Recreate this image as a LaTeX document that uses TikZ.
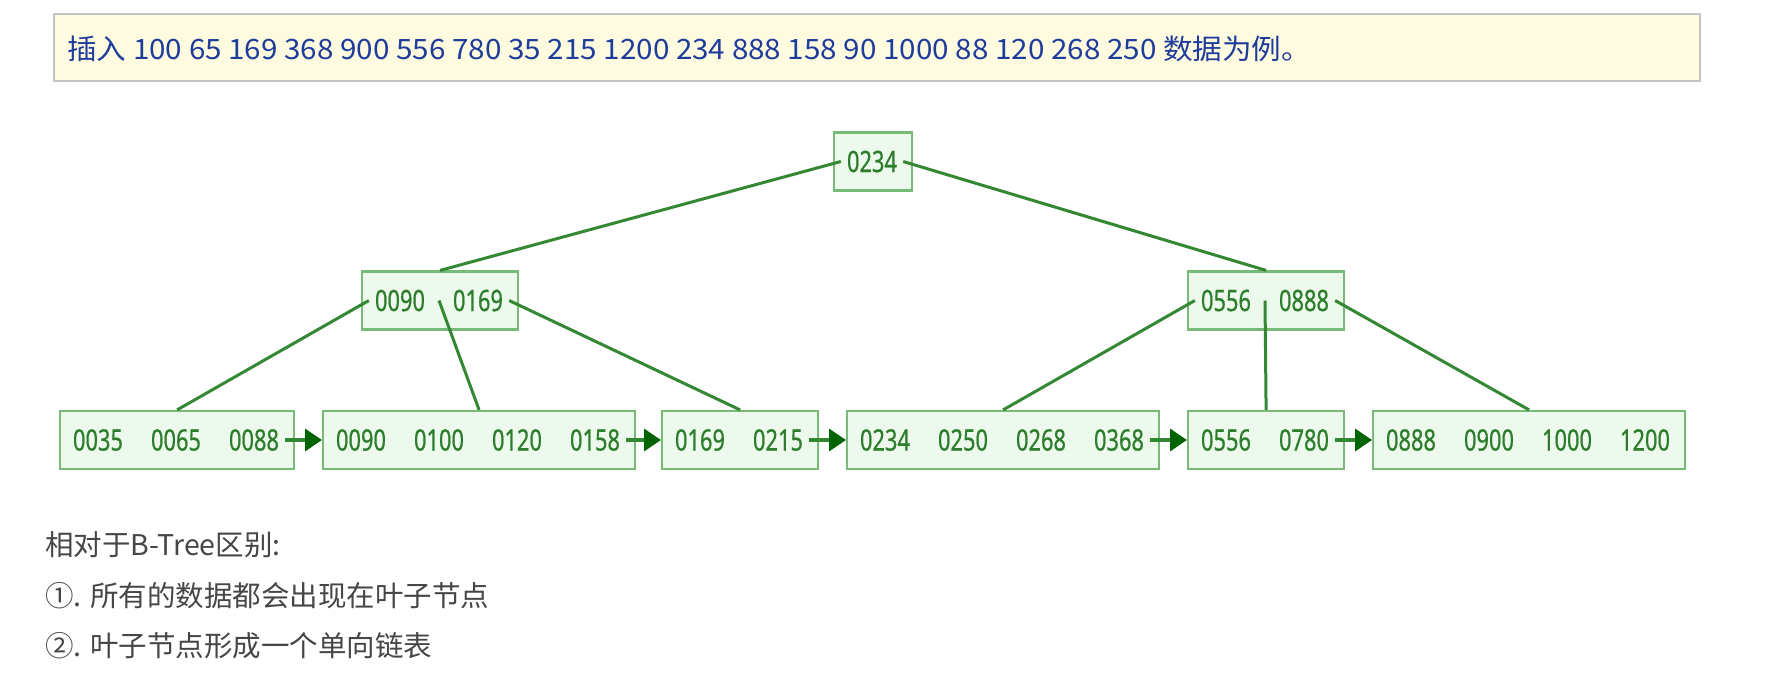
\documentclass[tikz,border=0pt]{standalone}
\usepackage{fontspec}
\usepackage{graphicx}
\usetikzlibrary{arrows.meta,calc}
\newfontfamily\cjkfont{Noto Sans CJK SC}
\newfontfamily\keyfont[FakeStretch=0.74,FakeBold=0.6]{Noto Sans}
\definecolor{boxfill}{RGB}{236,249,236}
\definecolor{boxdraw}{RGB}{120,186,120}
\definecolor{keytext}{RGB}{45,125,45}
\definecolor{linkcol}{RGB}{52,136,52}
\definecolor{shaftcol}{RGB}{50,135,50}
\definecolor{headcol}{RGB}{0,100,0}
\definecolor{bannerfill}{RGB}{255,251,224}
\definecolor{bannerdraw}{RGB}{195,195,195}
\definecolor{bannertext}{RGB}{30,60,155}
\definecolor{notetext}{RGB}{70,70,70}
\tikzset{
  bpbox/.style={draw=boxdraw, fill=boxfill, line width=2.2pt, minimum height=58pt, inner sep=0pt, anchor=west},
  bpkey/.style={text=keytext, font=\keyfont\fontsize{29.5}{29.5}\selectfont, inner xsep=6pt, inner ysep=0pt},
  treelink/.style={draw=linkcol, line width=3pt},
  leaflink/.style={draw=shaftcol, line width=3.5pt, -{Triangle[length=17pt,width=22pt,fill=headcol,color=headcol]}},
  notes/.style={anchor=base west, inner sep=0pt, text=notetext, font=\cjkfont\fontsize{28.5}{28.5}\selectfont},
}
\newcommand\bpnode[5]{%
  \node[bpbox, minimum width=#2*78pt] (#1) at (#3,#4) {};
  \foreach \k [count=\i] in {#5} {\node[bpkey] (#1-\i) at ({#3+78*\i-39},#4) {\k};}
}
\begin{document}
\begin{tikzpicture}[x=1pt,y=-1pt]
\fill[white] (0,0) rectangle (1779,681);
\useasboundingbox (0,0) rectangle (1779,681);
% banner
\node[draw=bannerdraw, fill=bannerfill, line width=1.5pt, minimum width=1646pt, minimum height=67pt, anchor=north west, inner sep=0pt] (banner) at (53,13) {};
\node[anchor=base west, inner sep=0pt, text=bannertext] (bannertxt) at (67,59)
  {\resizebox{1244pt}{\height}{\cjkfont\fontsize{28}{28}\selectfont 插入 100 65 169 368 900 556 780 35 215 1200 234 888 158 90 1000 88 120 268 250 数据为例。}};
% tree nodes
\bpnode{root}{1}{833}{161.5}{0234}
\bpnode{ia}{2}{361}{300.5}{0090,0169}
\bpnode{ib}{2}{1187}{300.5}{0556,0888}
\bpnode{la}{3}{59}{440}{0035,0065,0088}
\bpnode{lb}{4}{322}{440}{0090,0100,0120,0158}
\bpnode{lc}{2}{661}{440}{0169,0215}
\bpnode{ld}{4}{846}{440}{0234,0250,0268,0368}
\bpnode{le}{2}{1187}{440}{0556,0780}
\bpnode{lf}{4}{1372}{440}{0888,0900,1000,1200}
% tree links
\draw[treelink] (root-1.west) -- (ia.north);
\draw[treelink] (root-1.east) -- (ib.north);
\draw[treelink] (ia-1.west) -- (la.north);
\draw[treelink] ($(ia-1)!0.5!(ia-2)$) -- (lb.north);
\draw[treelink] (ia-2.east) -- (lc.north);
\draw[treelink] (ib-1.west) -- (ld.north);
\draw[treelink] ($(ib-1)!0.5!(ib-2)$) -- (le.north);
\draw[treelink] (ib-2.east) -- (lf.north);
% leaf chain
\draw[leaflink] (la-3.east) -- (lb.west);
\draw[leaflink] (lb-4.east) -- (lc.west);
\draw[leaflink] (lc-2.east) -- (ld.west);
\draw[leaflink] (ld-4.east) -- (le.west);
\draw[leaflink] (le-2.east) -- (lf.west);
% notes
\node[notes] (note1) at (45,555) {相对于B-Tree区别:};
\node[notes] (note2) at (45,606) {①. 所有的数据都会出现在叶子节点};
\node[notes] (note3) at (45,656) {②. 叶子节点形成一个单向链表};
\end{tikzpicture}
\end{document}
